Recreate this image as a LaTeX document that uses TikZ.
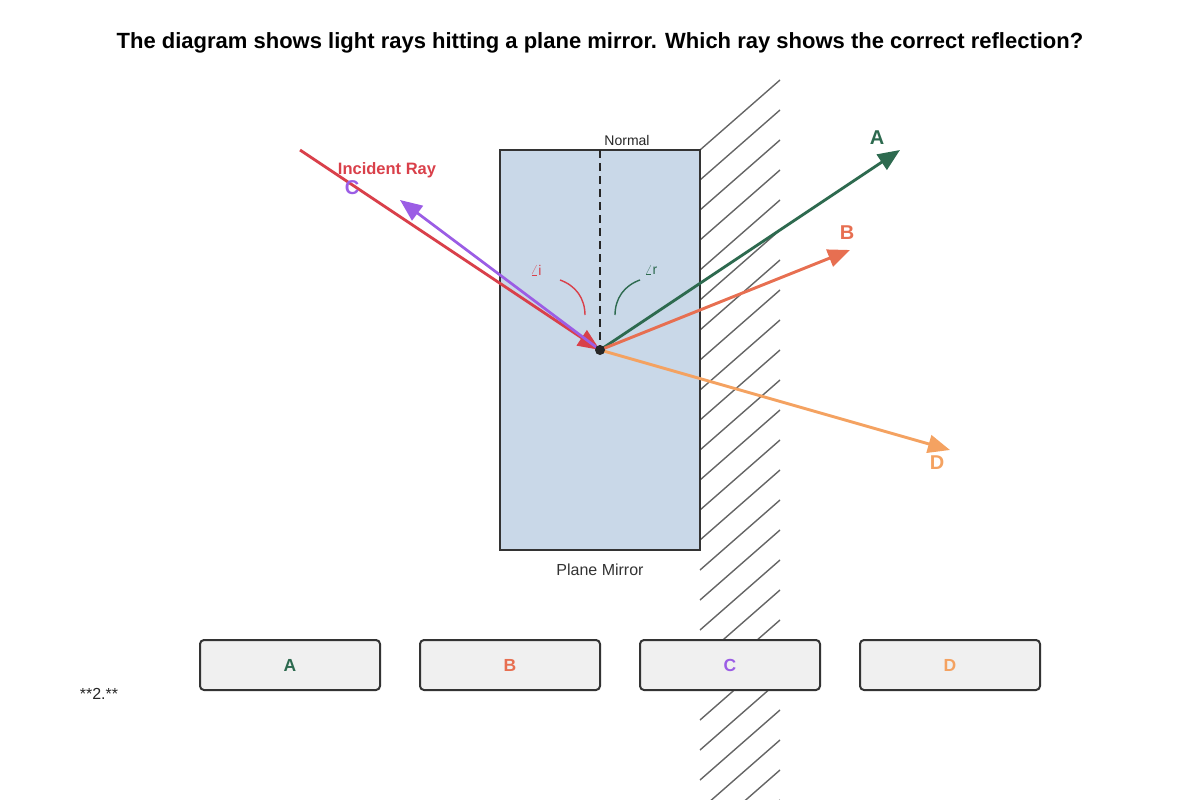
\documentclass[tikz,border=0pt]{standalone}
\usepackage{fontspec}
\setmainfont{Liberation Sans}
\usetikzlibrary{arrows.meta}
\definecolor{rayred}{HTML}{D9404A}
\definecolor{raypurple}{HTML}{9B5DE5}
\definecolor{raygreen}{HTML}{2D6A4F}
\definecolor{rayorange}{HTML}{E76F51}
\definecolor{raysand}{HTML}{F4A261}
\definecolor{glass}{HTML}{C9D8E8}
\begin{document}
\begin{tikzpicture}[x=1pt, y=-1pt,
  ray/.style={line width=2.9pt, -{Triangle[length=22pt, width=18pt]}},
  raylabel/.style={font=\fontsize{20}{24}\selectfont\bfseries},
  choice/.style={draw=black!80, line width=2pt, rounded corners=4pt, fill=black!6,
                 minimum width=180pt, minimum height=50pt, font=\fontsize{17.5}{20}\selectfont\bfseries},
  >=Stealth
]
\useasboundingbox (0,0) rectangle (1200,800);
\clip (0,0) rectangle (1200,800);

% ---- Title ----
\node[font=\fontsize{22}{26}\selectfont\bfseries] (title) at (600,43)
  {The diagram shows light rays hitting a plane mirror. Which ray shows the correct reflection?};

% ---- Mirror hatching ----
\foreach \y in {150,180,...,870}
  \draw[black!60, line width=1.4pt] (700,\y) -- (780,\y-70);

% ---- Glass block ----
\node[draw=black!80, line width=2.8pt, fill=glass, minimum width=200pt, minimum height=400pt,
      inner sep=0pt] (block) at (600,350) {};
\node[font=\fontsize{16}{19}\selectfont, text=black!80] (mirrorlabel) at (600,570) {Plane Mirror};
\coordinate (hit) at (600,350);
\coordinate (top) at (600,150);
\draw[line width=2pt, dash pattern=on 8pt off 5pt, black!85] (top) -- (hit);
\node[font=\fontsize{14}{16}\selectfont, text=black!85] (normal) at (627,140) {Normal};

% ---- Angle marks ----
\draw[rayred, line width=1.4pt] (560,280) to[bend left=35] (585,315);
\draw[raygreen, line width=1.4pt] (640,280) to[bend right=35] (615,315);
\node[text=rayred, font=\fontsize{14}{16}\selectfont] (ai) at (536,270) {$\angle$i};
\node[text=raygreen, font=\fontsize{14}{16}\selectfont] (ar) at (651,270) {$\angle$r};

% ---- Rays ----
\coordinate (src) at (300,150);
\coordinate (tipA) at (900,150);
\coordinate (tipB) at (850,250);
\coordinate (tipC) at (400,200);
\coordinate (tipD) at (950,450);
\draw[ray, rayred] (src) -- (hit);
\draw[ray, raypurple, line width=2.7pt] (hit) -- (tipC);
\draw[ray, raygreen] (hit) -- (tipA);
\draw[ray, rayorange] (hit) -- (tipB);
\draw[ray, raysand] (hit) -- (tipD);
\fill[black!85] (hit) circle (5pt);

\node[text=rayred, font=\fontsize{16.5}{19}\selectfont\bfseries] (incident) at (387,170) {Incident Ray};
\node[raylabel, text=raypurple] (labC) at (352,188) {C};
\node[raylabel, text=raygreen] (labA) at (877,138) {A};
\node[raylabel, text=rayorange] (labB) at (847,233) {B};
\node[raylabel, text=raysand] (labD) at (937,463) {D};

% ---- Answer choices ----
\node[choice, text=raygreen] (optA) at (290,665) {A};
\node[choice, text=rayorange] (optB) at (510,665) {B};
\node[choice, text=raypurple] (optC) at (730,665) {C};
\node[choice, text=raysand] (optD) at (950,665) {D};

\node[font=\fontsize{16}{19}\selectfont, text=black!85] (num) at (99,694) {**2.**};
\end{tikzpicture}
\end{document}
